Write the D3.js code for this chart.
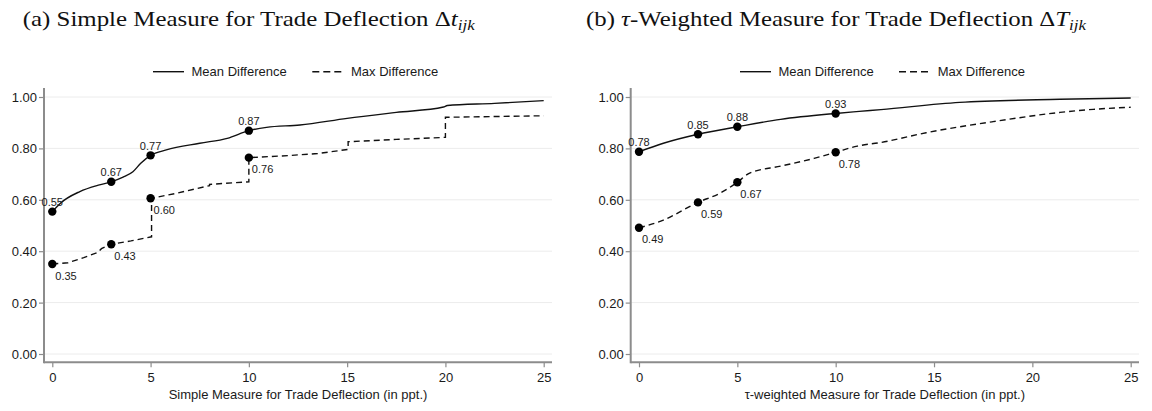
<!DOCTYPE html>
<html>
<head>
<meta charset="utf-8">
<script src="https://cdn.jsdelivr.net/npm/d3@7"></script>
<style>
  body { margin: 0; background: #fff; }
  svg { display: block; }
  .tick text { font-family: "Liberation Sans", Arial, sans-serif; }
</style>
</head>
<body>
<svg id="chart" width="1152" height="411"></svg>
<script>
// ---- data ----
var yTicks = [0, 0.2, 0.4, 0.6, 0.8, 1.0];
var xTicks = [0, 5, 10, 15, 20, 25];
var markX = [0, 3, 5, 10];
var legendNames = ["Mean Difference", "Max Difference"];

// panel (a): simple measure
var aMeanX = [0, 0.4, 1.4, 2.4, 3, 3.6, 4.1, 4.5, 5, 5.8, 7.5, 8.9, 10, 10.9, 12.6, 15, 17.5, 19.9, 20.1, 22.5, 25];
var aMeanY = [0.554, 0.586, 0.632, 0.658, 0.67, 0.688, 0.709, 0.742, 0.773, 0.794, 0.82, 0.839, 0.869, 0.882, 0.891, 0.917, 0.94, 0.961, 0.967, 0.975, 0.986];
var aMaxX = [0, 0.8, 1.6, 2.3, 2.5, 3, 4, 5.05, 5.05, 6.3, 8, 8, 10, 10, 12, 13.5, 15.05, 15.05, 17.5, 20, 20, 25];
var aMaxY = [0.35, 0.355, 0.375, 0.395, 0.41, 0.427, 0.44, 0.456, 0.606, 0.625, 0.655, 0.66, 0.67, 0.764, 0.772, 0.78, 0.796, 0.826, 0.835, 0.843, 0.921, 0.927];
var aMeanMarks = [0.554, 0.67, 0.773, 0.869];
var aMaxMarks = [0.35, 0.427, 0.606, 0.764];
var aMeanLabels = ["0.55", "0.67", "0.77", "0.87"];
var aMaxLabels = ["0.35", "0.43", "0.60", "0.76"];

// panel (b): tau-weighted measure
var bMeanX = [0, 1.24, 3, 5, 7.2, 10, 11.2, 12.3, 16.3, 21.4, 25];
var bMeanY = [0.787, 0.82, 0.855, 0.884, 0.913, 0.936, 0.944, 0.951, 0.979, 0.991, 0.996];
var bMaxX = [0, 1.24, 3, 4.1, 5, 5.6, 7.2, 8.9, 10, 11.1, 12.3, 14.6, 18, 21.4, 23.1, 25];
var bMaxY = [0.491, 0.521, 0.59, 0.625, 0.668, 0.703, 0.731, 0.761, 0.785, 0.809, 0.823, 0.861, 0.904, 0.94, 0.952, 0.96];
var bMeanMarks = [0.787, 0.855, 0.884, 0.936];
var bMaxMarks = [0.491, 0.59, 0.668, 0.785];
var bMeanLabels = ["0.78", "0.85", "0.88", "0.93"];
var bMaxLabels = ["0.49", "0.59", "0.67", "0.78"];

var svg = d3.select("#chart");
var sans = "'Liberation Sans', Arial, sans-serif";
var serif = "'Liberation Serif', 'Times New Roman', serif";
var axisColor = "#8c8c8c";

function zip(xs, ys) { return xs.map(function(x, i) { return [x, ys[i]]; }); }

function drawPanel(p) {
  var g = svg.append("g");
  var x = d3.scaleLinear().domain([0, 25]).range([p.x0, p.x1]);
  var y = d3.scaleLinear().domain([0, 1]).range([354, 97]);
  var axX = p.x0 - 8.3, axY = 362.3, right = p.x1 + 8.3;

  // title
  var t = g.append("text")
    .attr("x", p.titleX).attr("y", 26)
    .attr("font-family", serif).attr("font-size", 22).attr("fill", "#111")
    .attr("textLength", p.titleW).attr("lengthAdjust", "spacingAndGlyphs");
  p.title(t);

  // gridlines
  g.selectAll(".grid").data(yTicks).enter().append("line")
    .attr("x1", axX).attr("x2", right)
    .attr("y1", function(d) { return y(d); }).attr("y2", function(d) { return y(d); })
    .attr("stroke", "#ececec").attr("stroke-width", 1);

  // y axis
  var ya = g.append("g").attr("transform", "translate(" + axX + ",0)")
    .call(d3.axisLeft(y).tickValues(yTicks).tickFormat(d3.format(".2f")).tickSize(5).tickPadding(2));
  ya.select(".domain").remove();
  ya.selectAll(".tick line").attr("stroke", axisColor).attr("stroke-width", 1.2);
  ya.selectAll(".tick text").attr("font-size", 13).attr("fill", "#1a1a1a").attr("dy", "0.34em");

  // x axis
  var xa = g.append("g").attr("transform", "translate(0," + axY + ")")
    .call(d3.axisBottom(x).tickValues(xTicks).tickSize(5).tickPadding(5));
  xa.select(".domain").remove();
  xa.selectAll(".tick line").attr("stroke", axisColor).attr("stroke-width", 1.2);
  xa.selectAll(".tick text").attr("font-size", 13).attr("fill", "#1a1a1a");

  g.append("line").attr("x1", axX).attr("x2", axX).attr("y1", 88).attr("y2", axY + 1)
    .attr("stroke", axisColor).attr("stroke-width", 2);
  g.append("line").attr("x1", axX).attr("x2", right).attr("y1", axY).attr("y2", axY)
    .attr("stroke", axisColor).attr("stroke-width", 2);

  g.append("text").attr("x", (p.x0 + p.x1) / 2).attr("y", 399)
    .attr("text-anchor", "middle").attr("font-family", sans).attr("font-size", 13).attr("fill", "#1a1a1a")
    .text(p.xTitle);

  // lines
  var smooth = d3.line().x(function(d) { return x(d[0]); }).y(function(d) { return y(d[1]); })
    .curve(d3.curveMonotoneX);
  var straight = d3.line().x(function(d) { return x(d[0]); }).y(function(d) { return y(d[1]); });

  g.append("path").attr("d", smooth(zip(p.meanX, p.meanY)))
    .attr("fill", "none").attr("stroke", "#111").attr("stroke-width", 1.4);
  g.append("path").attr("d", (p.maxStep ? straight : smooth)(zip(p.maxX, p.maxY)))
    .attr("fill", "none").attr("stroke", "#111").attr("stroke-width", 1.4)
    .attr("stroke-dasharray", "6,4");

  // markers + labels
  [[p.meanMarks, p.meanLabels, true], [p.maxMarks, p.maxLabels, false]].forEach(function(s) {
    var pts = zip(markX, s[0]);
    g.selectAll(null).data(pts).enter().append("circle")
      .attr("cx", function(d) { return x(d[0]); }).attr("cy", function(d) { return y(d[1]); })
      .attr("r", 4.2).attr("fill", "#000");
    g.selectAll(null).data(pts).enter().append("text")
      .attr("x", function(d) { return x(d[0]) + (s[2] ? 0 : 3); })
      .attr("y", function(d) { return y(d[1]) + (s[2] ? -5.5 : 15.5); })
      .attr("text-anchor", s[2] ? "middle" : "start")
      .attr("font-family", sans).attr("font-size", 11).attr("fill", "#1a1a1a")
      .text(function(d, i) { return s[1][i]; });
  });

  // legend
  var lg = g.append("g");
  lg.append("line").attr("x1", p.leg[0]).attr("x2", p.leg[0] + 31).attr("y1", 71.7).attr("y2", 71.7)
    .attr("stroke", "#111").attr("stroke-width", 1.4);
  lg.append("text").attr("x", p.leg[0] + 38.5).attr("y", 76.3)
    .attr("font-family", sans).attr("font-size", 13).attr("fill", "#1a1a1a").text(legendNames[0]);
  lg.append("line").attr("x1", p.leg[1]).attr("x2", p.leg[1] + 31).attr("y1", 71.7).attr("y2", 71.7)
    .attr("stroke", "#111").attr("stroke-width", 1.4).attr("stroke-dasharray", "7,4");
  lg.append("text").attr("x", p.leg[1] + 38.7).attr("y", 76.3)
    .attr("font-family", sans).attr("font-size", 13).attr("fill", "#1a1a1a").text(legendNames[1]);
}

drawPanel({
  x0: 52.3, x1: 543.7, titleX: 22.7, titleW: 452,
  title: function(t) {
    t.append("tspan").text("(a) Simple Measure for Trade Deflection \u0394");
    t.append("tspan").attr("font-style", "italic").text("t");
    t.append("tspan").attr("font-style", "italic").attr("font-size", 15).attr("dy", 4).text("ijk");
  },
  xTitle: "Simple Measure for Trade Deflection (in ppt.)",
  meanX: aMeanX, meanY: aMeanY, maxX: aMaxX, maxY: aMaxY, maxStep: true,
  meanMarks: aMeanMarks, maxMarks: aMaxMarks, meanLabels: aMeanLabels, maxLabels: aMaxLabels,
  leg: [153, 312.3]
});

drawPanel({
  x0: 639, x1: 1130.7, titleX: 586, titleW: 500,
  title: function(t) {
    t.append("tspan").text("(b) ");
    t.append("tspan").attr("font-style", "italic").text("\u03c4");
    t.append("tspan").text("-Weighted Measure for Trade Deflection \u0394");
    t.append("tspan").attr("font-style", "italic").text("T");
    t.append("tspan").attr("font-style", "italic").attr("font-size", 15).attr("dy", 4).text("ijk");
  },
  xTitle: "\u03c4-weighted Measure for Trade Deflection (in ppt.)",
  meanX: bMeanX, meanY: bMeanY, maxX: bMaxX, maxY: bMaxY, maxStep: false,
  meanMarks: bMeanMarks, maxMarks: bMaxMarks, meanLabels: bMeanLabels, maxLabels: bMaxLabels,
  leg: [740, 899]
});
</script>
</body>
</html>
